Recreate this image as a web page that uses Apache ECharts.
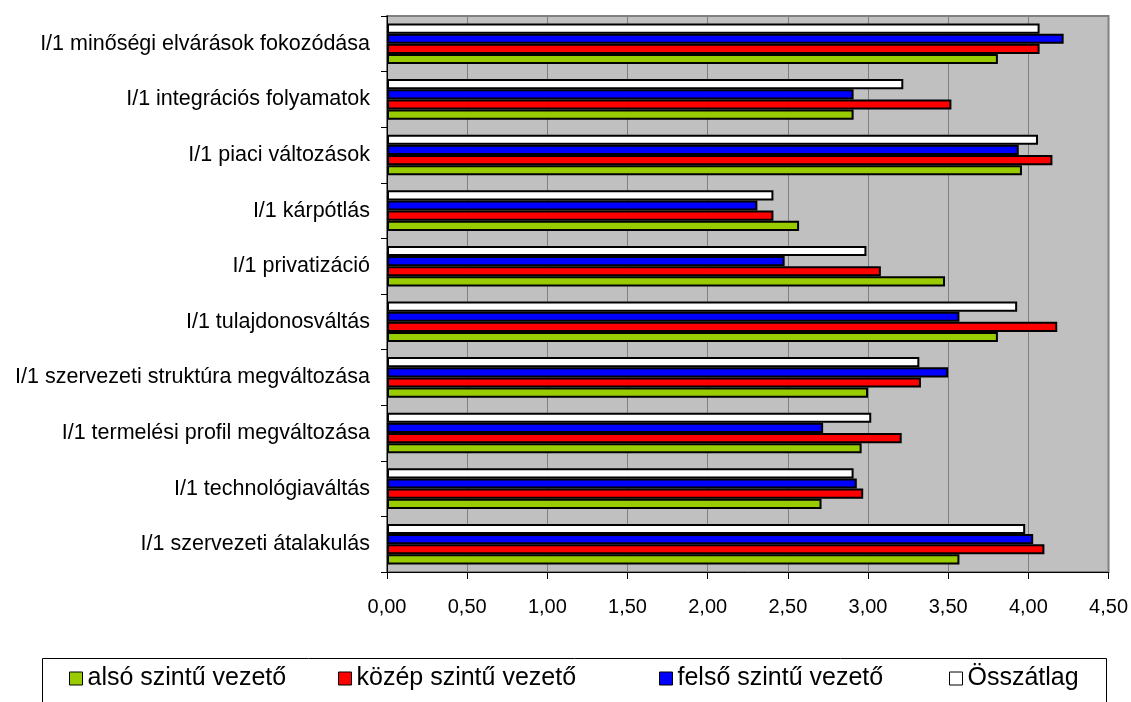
<!DOCTYPE html>
<html><head><meta charset="utf-8">
<script src="https://cdn.jsdelivr.net/npm/echarts@6/dist/echarts.min.js"></script>
<style>html,body{margin:0;padding:0;background:#fff}#c{width:1131px;height:702px}</style>
</head><body><div id="c"></div>
<script>
// categories listed bottom to top (as drawn on the value-ordered category axis)
const categories = [
  "I/1 szervezeti átalakulás",
  "I/1 technológiaváltás",
  "I/1 termelési profil megváltozása",
  "I/1 szervezeti struktúra megváltozása",
  "I/1 tulajdonosváltás",
  "I/1 privatizáció",
  "I/1 kárpótlás",
  "I/1 piaci változások",
  "I/1 integrációs folyamatok",
  "I/1 minőségi elvárások fokozódása"
];
const seriesNames = ["alsó szintű vezető", "közép szintű vezető", "felső szintű vezető", "Összátlag"];
const also   = [3.57, 2.71, 2.96, 3.00, 3.81, 3.48, 2.57, 3.96, 2.91, 3.81];
const kozep  = [4.10, 2.97, 3.21, 3.33, 4.18, 3.08, 2.41, 4.15, 3.52, 4.07];
const felso  = [4.03, 2.93, 2.72, 3.50, 3.57, 2.48, 2.31, 3.94, 2.91, 4.22];
const ossz   = [3.98, 2.91, 3.02, 3.32, 3.93, 2.99, 2.41, 4.06, 3.22, 4.07];
const xTicks = [0, 0.5, 1, 1.5, 2, 2.5, 3, 3.5, 4, 4.5];

const colors = ["#99CC00", "#FF0000", "#0000FF", "#FFFFFF"];
const values = [also, kozep, felso, ossz];
const font = "Liberation Sans, Arial, sans-serif";

const chart = echarts.init(document.getElementById('c'));
const legendLefts = [69, 338, 659, 949];
// draw order reversed so that the first series sits at the bottom of each group
const order = [3, 2, 1, 0];
chart.setOption({
  animation: false,
  backgroundColor: '#fff',
  grid: { left: 387, right: 21, top: 16, bottom: 130, show: true, backgroundColor: '#C0C0C0', borderColor: '#808080', borderWidth: 2 },
  xAxis: {
    type: 'value', min: xTicks[0], max: xTicks[xTicks.length-1], interval: 0.5,
    axisLine: { show: true, lineStyle: { color: '#000', width: 1 } },
    axisTick: { show: true, length: 7, lineStyle: { color: '#000' } },
    axisLabel: { margin: 25, fontFamily: font, fontSize: 20, color: '#000', formatter: v => v.toFixed(2).replace('.', ',') },
    splitLine: { show: true, lineStyle: { color: '#808080', width: 1 } }
  },
  yAxis: {
    type: 'category', data: categories,
    axisLine: { show: true, lineStyle: { color: '#000', width: 1 } },
    axisTick: { show: true, length: 6, lineStyle: { color: '#000' } },
    axisLabel: { margin: 17, fontFamily: font, fontSize: 21.5, color: '#000' }
  },
  legend: seriesNames.map((n, i) => ({
    data: [n], left: legendLefts[i], top: 666, icon: 'rect', itemWidth: 13, itemHeight: 13, itemGap: 0,
    padding: 0,
    textStyle: { fontFamily: font, fontSize: 25, color: '#000', padding: [0, 0, 0, 0] },
    itemStyle: { borderColor: '#000', borderWidth: 1 }
  })),
  graphic: [{
    type: 'rect', left: 40, top: 656, shape: { width: 1064, height: 60 },
    style: { fill: 'none', stroke: '#000', lineWidth: 1 }, silent: true
  }],
  series: order.map(i => ({
    name: seriesNames[i], type: 'bar', data: values[i],
    barGap: '0%', barCategoryGap: '27%',
    itemStyle: { color: colors[i], borderColor: '#000', borderWidth: 2 }
  }))
});
</script></body></html>
